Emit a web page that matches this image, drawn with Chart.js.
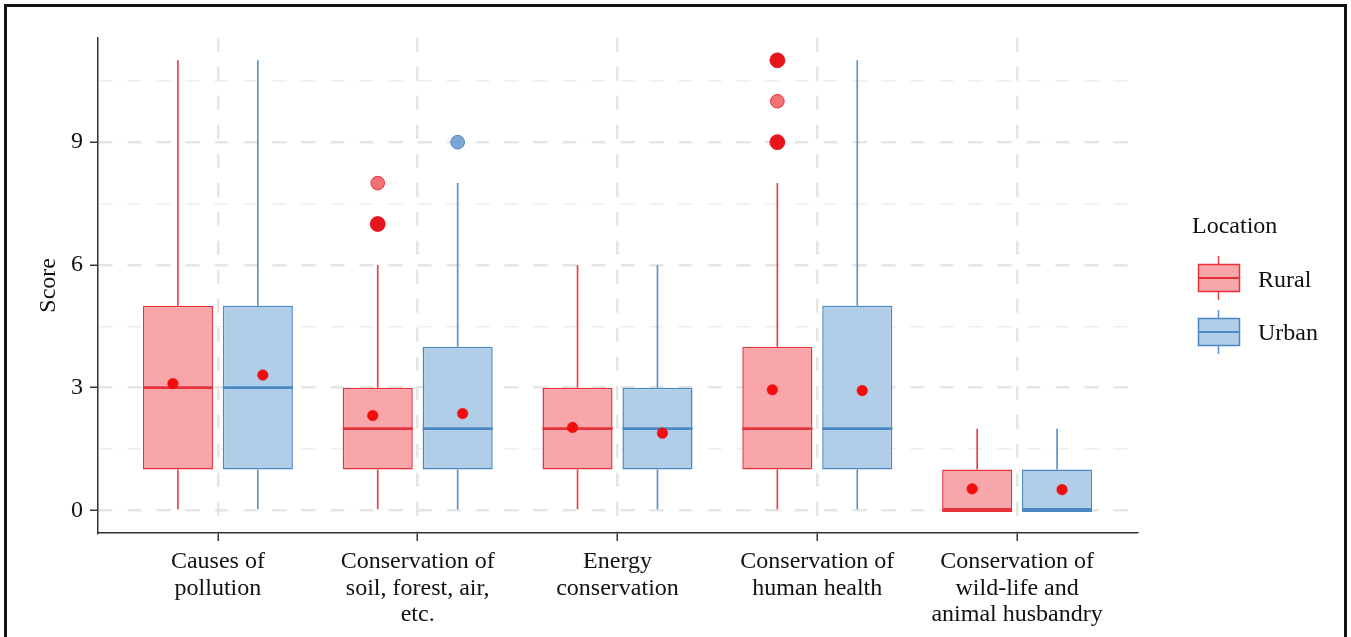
<!DOCTYPE html>
<html>
<head>
<meta charset="utf-8">
<script src="https://cdn.jsdelivr.net/npm/chart.js@4.4.1/dist/chart.umd.min.js"></script>
<style>
  html, body { margin: 0; padding: 0; background: #fff; overflow: hidden; }
  #wrap { position: relative; width: 1351px; height: 637px; }
  #chart { position: absolute; left: 0; top: 0; }
  #frame { position: absolute; left: 4px; top: 4px; width: 1337px; height: 700px; border: 3px solid #111; pointer-events: none; }
  .lg { position: absolute; font-family: "Liberation Serif", "Times New Roman", serif; font-size: 24px; line-height: 24px; color: #111; white-space: nowrap; }
  .key { position: absolute; }
</style>
</head>
<body>
<div id="wrap">
  <canvas id="chart" width="1351" height="637"></canvas>
  <div class="lg" style="left:1192px; top:213px;">Location</div>
  <canvas class="key" id="keyRural" width="44" height="46" style="left:1197px; top:255px;"></canvas>
  <div class="lg" style="left:1258px; top:267px;">Rural</div>
  <canvas class="key" id="keyUrban" width="44" height="46" style="left:1197px; top:309px;"></canvas>
  <div class="lg" style="left:1258px; top:320px;">Urban</div>
  <div id="frame"></div>
</div>
<script>
// categories (multi-line tick labels)
const categories = [
  ['Causes of', 'pollution'],
  ['Conservation of', 'soil, forest, air,', 'etc.'],
  ['Energy', 'conservation'],
  ['Conservation of', 'human health'],
  ['Conservation of', 'wild-life and', 'animal husbandry']
];

// Rural box statistics
const ruralMin = [0, 0, 0, 0, 0];
const ruralQ1 = [1, 1, 1, 1, 0];
const ruralMedian = [3, 2, 2, 2, 0];
const ruralQ3 = [5, 3, 3, 4, 1];
const ruralMax = [11, 6, 6, 8, 2];
const ruralMean = [3.1, 2.32, 2.03, 2.95, 0.53];
const ruralOutliers = [[], [7, 7, 8], [], [9, 9, 10, 11, 11], []];

// Urban box statistics
const urbanMin = [0, 0, 0, 0, 0];
const urbanQ1 = [1, 1, 1, 1, 0];
const urbanMedian = [3, 2, 2, 2, 0];
const urbanQ3 = [5, 4, 3, 5, 1];
const urbanMax = [11, 8, 6, 11, 2];
const urbanMean = [3.31, 2.37, 1.89, 2.93, 0.51];
const urbanOutliers = [[], [9], [], [], []];

// y axis ticks
const yTicks = [0, 3, 6, 9];
const yMinorTicks = [1.5, 4.5, 7.5, 10.5];

const BOX_OFFSET = 0.2;
const MEAN_OFFSET = 0.225;

const font = { family: '"Liberation Serif", "Times New Roman", serif', size: 24, lineHeight: 1.12 };
const rural = { fill: '#f8a6a9', line: '#e8323a', whisker: '#e8414a', outlier: 'rgba(236,60,60,0.72)', outlierDark: '#e8151d' };
const urban = { fill: '#b1cee9', line: '#4b87c2', whisker: '#5b94c8', outlier: 'rgba(80,140,200,0.75)', outlierDark: '#3f7fc0' };

function pairs(a, b) { return a.map((v, i) => ({ x: i, y: [v, b[i]] })); }
function shifted(vals, off) { return vals.map((v, i) => ({ x: i + off, y: v })); }
function outlierPoints(list, off) {
  const pts = [];
  list.forEach((vals, i) => {
    const counts = {};
    vals.forEach(v => { counts[v] = (counts[v] || 0) + 1; });
    Object.keys(counts).forEach(k => pts.push({ x: i + off, y: Number(k), n: counts[k] }));
  });
  return pts;
}

function boxSet(label, stack, q1, q3, c) {
  return { type: 'bar', label, stack, order: 4, data: pairs(q1, q3),
    backgroundColor: c.fill, borderColor: c.line, borderWidth: 1.5, borderSkipped: false,
    categoryPercentage: 0.8, barPercentage: 0.877 };
}
function whiskerSet(stack, a, b, c) {
  return { type: 'bar', stack, order: 3, data: pairs(a, b),
    backgroundColor: c.whisker, borderWidth: 0,
    categoryPercentage: 0.8, barPercentage: 0.021 };
}
function medianSet(vals, off, c) {
  return { type: 'scatter', order: 2, data: shifted(vals, off),
    pointStyle: 'line', pointRadius: 35, pointBorderWidth: 2.8, pointBorderColor: c.line, showLine: false };
}
function meanSet(vals, off) {
  return { type: 'scatter', order: 1, data: shifted(vals, off),
    pointRadius: 5.3, pointBackgroundColor: '#f20d0d', pointBorderColor: '#f20d0d', pointBorderWidth: 0.5 };
}
function outlierSet(list, off, c) {
  return { type: 'scatter', order: 0, data: outlierPoints(list, off),
    pointRadius: ctx => (ctx.raw && ctx.raw.n > 1 ? 7.4 : 6.8),
    pointBackgroundColor: ctx => (ctx.raw && ctx.raw.n > 1 ? c.outlierDark : c.outlier),
    pointBorderColor: ctx => (ctx.raw && ctx.raw.n > 1 ? c.outlierDark : c.line),
    pointBorderWidth: 1 };
}

new Chart(document.getElementById('chart'), {
  data: {
    datasets: [
      whiskerSet('R', ruralMin, ruralQ1, rural),
      whiskerSet('R', ruralQ3, ruralMax, rural),
      whiskerSet('U', urbanMin, urbanQ1, urban),
      whiskerSet('U', urbanQ3, urbanMax, urban),
      boxSet('Rural', 'R', ruralQ1, ruralQ3, rural),
      boxSet('Urban', 'U', urbanQ1, urbanQ3, urban),
      medianSet(ruralMedian, -BOX_OFFSET, rural),
      medianSet(urbanMedian, BOX_OFFSET, urban),
      meanSet(ruralMean, -MEAN_OFFSET),
      meanSet(urbanMean, MEAN_OFFSET),
      outlierSet(ruralOutliers, -BOX_OFFSET, rural),
      outlierSet(urbanOutliers, BOX_OFFSET, urban)
    ]
  },
  options: {
    responsive: false,
    devicePixelRatio: 1,
    animation: false,
    events: [],
    layout: { padding: { left: 31, top: 35, right: 214, bottom: 0 } },
    plugins: { legend: { display: false }, tooltip: { enabled: false } },
    scales: {
      x: {
        type: 'linear', min: -0.6, max: 4.6, offset: false,
        afterBuildTicks: s => { s.ticks = categories.map((c, i) => ({ value: i })); },
        afterFit: s => { s.height = 104; },
        ticks: { callback: v => categories[v], font, color: '#111', padding: 7, maxRotation: 0, autoSkip: false },
        grid: { offset: false, color: '#e5e5e5', lineWidth: 2.5, tickColor: '#333', tickWidth: 1.5, tickLength: 8 },
        border: { color: '#333', width: 1.5, dash: [14, 15] }
      },
      y: {
        min: -0.55, max: 11.55, stacked: false,
        afterBuildTicks: s => { s.ticks = yTicks.concat(yMinorTicks).sort((a, b) => a - b).map(v => ({ value: v })); },
        afterFit: s => { s.width = 67; },
        ticks: { callback: v => (yTicks.includes(v) ? String(v) : ''), font, color: '#111', padding: 7 },
        grid: {
          color: ctx => (yTicks.includes(ctx.tick.value) ? '#e5e5e5' : '#eeeeee'),
          lineWidth: ctx => (yTicks.includes(ctx.tick.value) ? 2.5 : 1.5),
          tickColor: ctx => (yTicks.includes(ctx.tick.value) ? '#333' : 'rgba(0,0,0,0)'),
          tickWidth: 1.5, tickLength: 8
        },
        border: { color: '#333', width: 1.5, dash: [14, 15] },
        title: { display: true, text: 'Score', font, color: '#111', padding: { top: 4, bottom: 4 } }
      }
    }
  }
});

// legend keys
function drawKey(id, c) {
  const ctx = document.getElementById(id).getContext('2d');
  ctx.strokeStyle = c.whisker;
  ctx.lineWidth = 1.5;
  ctx.beginPath(); ctx.moveTo(21.5, 1); ctx.lineTo(21.5, 45); ctx.stroke();
  ctx.fillStyle = c.fill;
  ctx.fillRect(1.5, 9.5, 41, 27);
  ctx.strokeStyle = c.line;
  ctx.strokeRect(1.5, 9.5, 41, 27);
  ctx.lineWidth = 2;
  ctx.beginPath(); ctx.moveTo(1.5, 23); ctx.lineTo(42.5, 23); ctx.stroke();
}
drawKey('keyRural', rural);
drawKey('keyUrban', urban);
</script>
</body>
</html>
